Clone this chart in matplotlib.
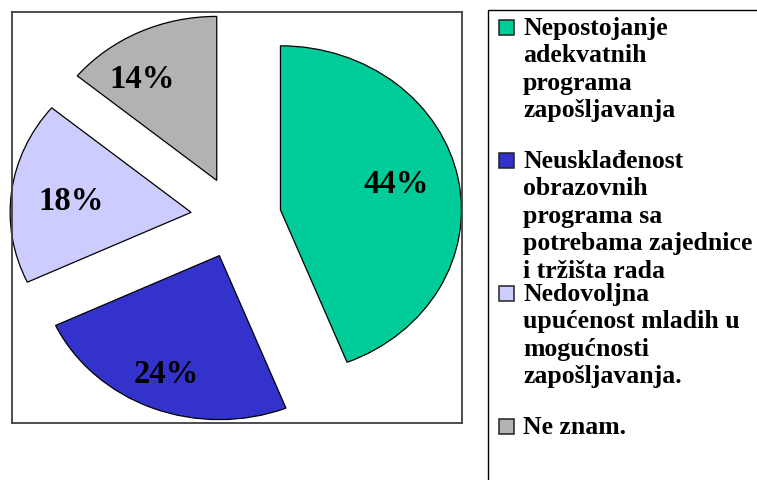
import numpy as np
import matplotlib
matplotlib.use('Agg')
import matplotlib.pyplot as plt
from matplotlib.patches import Rectangle

plt.rcParams['font.family'] = ['Liberation Serif', 'DejaVu Serif']
plt.rcParams['font.weight'] = 'bold'

# data
labels = ['Nepostojanje\nadekvatnih\nprograma\nzapošljavanja',
          'Neusklađenost\nobrazovnih\nprograma sa\npotrebama zajednice\ni tržišta rada',
          'Nedovoljna\nupućenost mladih u\nmogućnosti\nzapošljavanja.',
          'Ne znam.']
shares = [44, 24, 18, 14]
colors = ['#00CC99', '#3333CC', '#CCCCFF', '#B2B2B2']

# where the % labels sit inside each exploded slice (radius, extra angle in deg)
lab_dist = [0.66, 0.77, 0.67, 0.75]
lab_turn = [4, -1, 0, 8]

W, H = 757, 480
fig = plt.figure(figsize=(W / 100, H / 100), dpi=100)

# plot area box (pixels: 12..462 x 12..423)
ax = fig.add_axes([12 / W, (H - 423) / H, 450 / W, 411 / H])
wedges, texts, autotexts = ax.pie(
    shares, colors=colors, explode=[0.25] * len(shares),
    startangle=90, counterclock=False, frame=True,
    autopct='%1.0f%%', pctdistance=0.71,
    wedgeprops=dict(edgecolor='black', linewidth=0.9),
    textprops=dict(fontsize=23.5, fontweight='bold', color='black'))
for w, t, d, a in zip(wedges, autotexts, lab_dist, lab_turn):
    mid = np.deg2rad((w.theta1 + w.theta2) / 2 + a)
    cx, cy = w.center
    t.set_position((cx + d * np.cos(mid), cy + d * np.sin(mid) - 0.015))

ax.set_aspect('auto')
ax.set_xlim(-1.2376, 1.2486)
ax.set_ylim(-1.253, 1.253)
ax.set_xticks([])
ax.set_yticks([])
for s in ax.spines.values():
    s.set_color('#404040')
    s.set_linewidth(1.3)

# legend frame, runs off the right and bottom edges
fig.patches.append(Rectangle((487.5 / W, -0.1), 0.5, 1.1 - 10 / H,
                             transform=fig.transFigure, fill=False,
                             edgecolor='black', linewidth=1.0))

slot = 133
line_step = 27.4
for i, (lab, c) in enumerate(zip(labels, colors)):
    base = 35 + i * slot
    top = 20 + i * slot
    fig.patches.append(Rectangle((499 / W, 1 - (top + 15) / H), 15 / W, 15 / H,
                                 transform=fig.transFigure, facecolor=c,
                                 edgecolor='#222222', linewidth=1.1))
    for j, line in enumerate(lab.split('\n')):
        fig.text(523 / W, 1 - (base + j * line_step) / H, line,
                 fontsize=18.5, fontweight='bold', ha='left', va='baseline')

fig.savefig('out.png', dpi=100)
